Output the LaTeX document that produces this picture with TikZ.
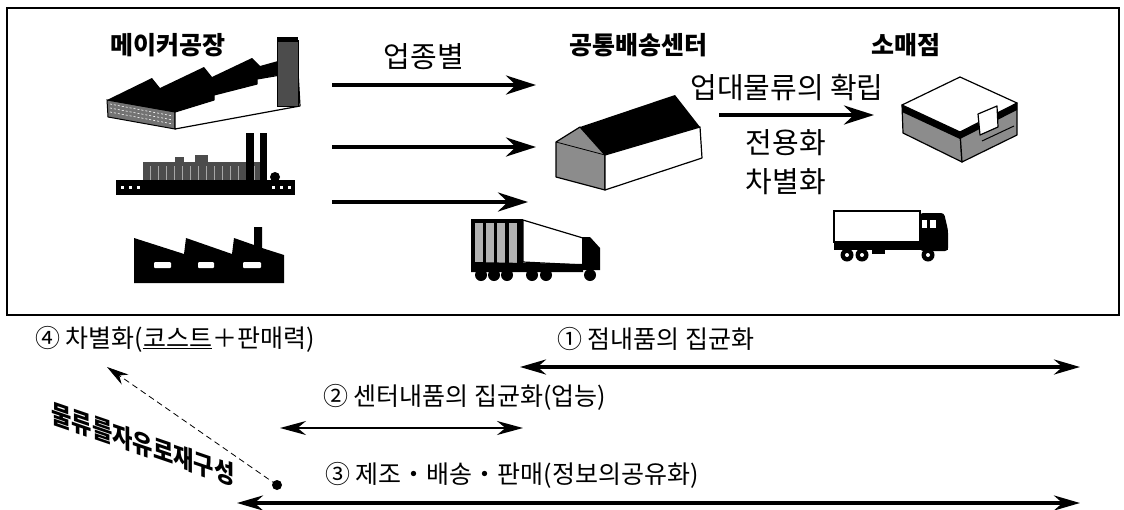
\documentclass[tikz,border=0pt]{standalone}
\usepackage{fontspec}
\setmainfont{Noto Sans CJK KR}
\usetikzlibrary{arrows.meta}
\begin{document}
\begin{tikzpicture}[x=1pt,y=-1pt,
  boldlabel/.style={font=\bfseries\fontsize{25}{27}\selectfont, inner sep=0},
  flowlabel/.style={font=\fontsize{29}{31}\selectfont, inner sep=0},
  lowlabel/.style={font=\fontsize{25}{27}\selectfont, inner sep=0, anchor=west},
  flow/.style={line width=3.8pt, -{Stealth[length=30pt,width=19pt]}},
  span/.style={line width=3.5pt, {Stealth[length=26pt,width=15pt]}-{Stealth[length=26pt,width=15pt]}},
  spanthin/.style={line width=2pt, {Stealth[length=26pt,width=14pt]}-{Stealth[length=26pt,width=14pt]}},
  wall/.style={draw=black, line width=1.2pt, line join=round},
  tex/.style={fill=black!45},
]
\useasboundingbox (0,0) rectangle (1124,509);

% outer frame
\draw[line width=2.5pt] (7,8) rectangle (1119,315);

% ---------- factory 1: sawtooth plant with chimney ----------
\fill[black!55] (107,100) -- (175,112) -- (175,129) -- (108,117) -- cycle;
\foreach \yy in {104,108,112} \draw[white, line width=0.6pt, dash pattern=on 2pt off 2pt] (110,\yy) -- (173,\yy+12);
\draw[line width=1pt] (107,100) -- (175,112) -- (175,129) -- (108,117) -- cycle;
\draw[wall, fill=white] (175,112) -- (214,100) -- (214,95) -- (257,84) -- (257,79) -- (298,72) -- (300,106) -- (175,129) -- cycle;
\fill (107,100) -- (152,78) -- (160,88) -- (204,67) -- (212,77) -- (252,58) -- (260,66) -- (278,61)
      -- (278,75) -- (257,79) -- (257,84) -- (214,95) -- (214,100) -- (175,112) -- cycle;
\draw[line width=1pt, fill=black!70] (277,40) rectangle (298,106);
\fill (277,37) rectangle (298,42);

% ---------- factory 2: industrial complex ----------
\fill[black!70] (143,162) rectangle (266,192);
\foreach \xx in {150,158,...,262} \draw[black!35, line width=0.8pt] (\xx,166) -- (\xx,190);
\fill[black!70] (175,157) rectangle (184,163);
\fill[black!70] (195,155) rectangle (208,163);
\fill (246,133) rectangle (254,182);
\fill (260,133) rectangle (267,182);
\fill (275,177) circle (5);
\fill (116,180) rectangle (295,195);
\foreach \xx in {121,129,137,272,280,288} \fill[white] (\xx,186) rectangle +(3,3);

% ---------- factory 3: black shed ----------
\fill (134,283) -- (134,238) -- (184,254) -- (186,238) -- (232,254) -- (234,238) -- (254,245)
      -- (254,227) -- (262,227) -- (262,248) -- (284,255) -- (284,283) -- cycle;
\fill[white, rounded corners=1pt] (154,262) rectangle (171,268);
\fill[white, rounded corners=1pt] (198,262) rectangle (214,268);
\fill[white, rounded corners=1pt] (243,262) rectangle (261,268);

% ---------- warehouse (distribution centre) ----------
\draw[wall, tex] (556,142) -- (580,127) -- (605,155) -- (605,190) -- (556,177) -- cycle;
\draw[line width=0.8pt] (556,142) -- (605,155);
\fill (580,127) -- (675,95) -- (700,127) -- (605,155) -- cycle;
\draw[wall, fill=white] (605,155) -- (700,127) -- (702,158) -- (605,190) -- cycle;

% ---------- store ----------
\draw[wall, tex] (902,105) -- (960,132) -- (962,162) -- (903,133) -- cycle;
\draw[wall, tex] (960,132) -- (1017,103) -- (1017,135) -- (962,162) -- cycle;
\fill (902,105) -- (960,132) -- (960,139) -- (902,112) -- cycle;
\fill (960,132) -- (1017,103) -- (1017,110) -- (960,139) -- cycle;
\draw[wall, fill=white] (902,105) -- (960,77) -- (1017,103) -- (960,132) -- cycle;
\draw[wall, fill=white] (978,114) -- (997,106) -- (998,127) -- (980,135) -- cycle;
\draw[line width=1pt] (982,141) -- (1014,126);

% ---------- truck 1: trailer ----------
\fill (471,219) rectangle (523,272);
\foreach \xx in {475,486,497,509} \fill[black!30] (\xx,223) rectangle +(8,40);
\draw[wall, fill=white] (523,220) -- (583,238) -- (583,265) -- (523,262) -- cycle;
\fill (471,262) -- (583,264) -- (583,272) -- (471,272) -- cycle;
\fill (582,237) -- (590,237) -- (600,248) -- (600,270) -- (582,270) -- cycle;
\foreach \xx in {481,494,507,532,546,590} \fill (\xx,275) circle (6);

% ---------- truck 2: box truck ----------
\draw[line width=2.5pt, fill=white] (834,211) rectangle (920,242);
\fill[rounded corners=3pt] (920,213) -- (944,213) -- (948,230) -- (948,251) -- (920,251) -- cycle;
\fill[white] (922,220) rectangle (927,228);
\fill[white] (930,220) rectangle (936,228);
\fill (834,242) rectangle (948,250);
\fill (872,247) rectangle (885,254);
\foreach \xx in {847,862,928} {\fill (\xx,255) circle (6.5); \fill[white] (\xx,255) circle (2);}

% ---------- top labels ----------
\node[boldlabel] (maker) at (168,45) {메이커공장};
\node[boldlabel] (centre) at (638,45) {공통배송센터};
\node[boldlabel] (shop) at (906,45) {소매점};
\node[flowlabel] (bytrade) at (424,57) {업종별};
\node[flowlabel] (format) at (787,88) {업대물류의 확립};
\node[flowlabel] (dedic) at (786,143) {전용화};
\node[flowlabel] (diff) at (786,182) {차별화};

% ---------- top flow arrows ----------
\coordinate (f1s) at (332,85);  \coordinate (f1e) at (536,85);
\coordinate (f2s) at (332,147); \coordinate (f2e) at (536,147);
\coordinate (f3s) at (332,202); \coordinate (f3e) at (528,202);
\coordinate (f4s) at (719,115); \coordinate (f4e) at (874,115);
\draw[flow] (f1s) -- (f1e);
\draw[flow] (f2s) -- (f2e);
\draw[flow] (f3s) -- (f3e);
\draw[flow] (f4s) -- (f4e);

% ---------- lower captions ----------
\node[lowlabel] (cap4) at (35,339) {④ 차별화(\underline{코스트}＋판매력)};
\node[lowlabel] (cap1) at (557,339) {① 점내품의 집균화};
\node[lowlabel] (cap2) at (323,397) {② 센터내품의 집균화(업능)};
\node[lowlabel] (cap3) at (325,475) {③ 제조・배송・판매(정보의공유화)};
% slanted caption along the dashed pointer
\node[font=\bfseries\fontsize{26}{28}\selectfont, inner sep=0, xscale=0.85, yslant=-0.29, transform shape]
  (free) at (143,444) {물류를자유로재구성};

% ---------- span arrows ----------
\coordinate (s1a) at (520,367); \coordinate (s1b) at (1080,367);
\coordinate (s2a) at (280,428); \coordinate (s2b) at (523,428);
\coordinate (s3a) at (237,503); \coordinate (s3b) at (1080,503);
\draw[span] (s1a) -- (s1b);
\draw[spanthin] (s2a) -- (s2b);
\draw[span] (s3a) -- (s3b);

% ---------- restructuring pointer ----------
\fill (277,485) circle (5) coordinate (dot);
\coordinate (tip) at (107,367);
\draw[dash pattern=on 6pt off 4pt, line width=0.8pt, -{Stealth[length=22pt,width=12pt]}] (dot) -- (tip);
\end{tikzpicture}
\end{document}
